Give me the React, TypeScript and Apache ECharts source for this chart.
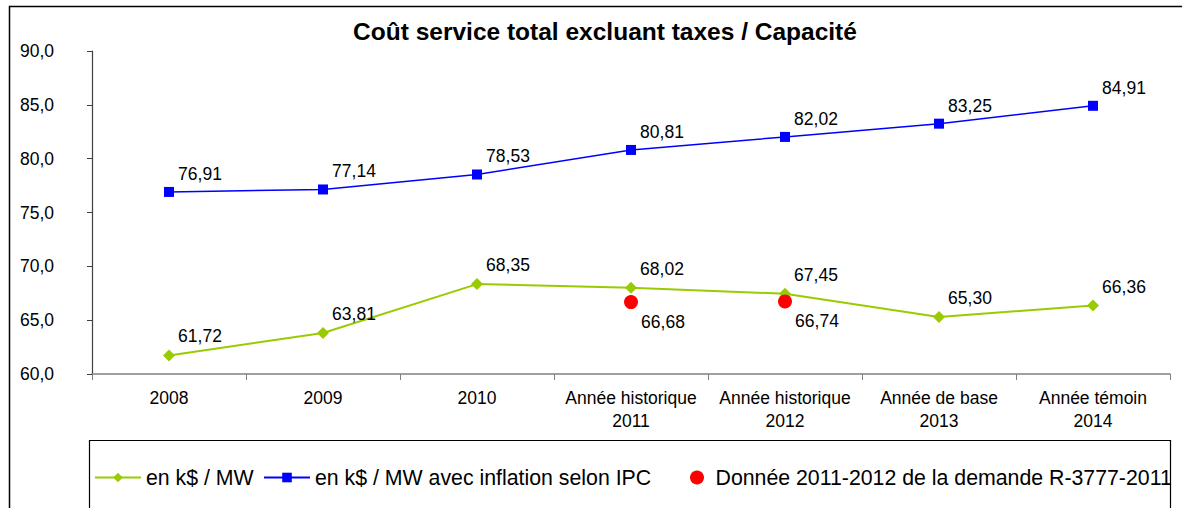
import React, { useEffect, useRef } from "react";
import * as echarts from "echarts";

const categories = [
  "2008",
  "2009",
  "2010",
  "Année historique\n2011",
  "Année historique\n2012",
  "Année de base\n2013",
  "Année témoin\n2014",
];
const greenName = "en k$ / MW";
const blueName = "en k$ / MW avec inflation selon IPC";
const redName = "Donnée 2011-2012 de la demande R-3777-2011";
const greenValues = [61.72, 63.81, 68.35, 68.02, 67.45, 65.3, 66.36];
const blueValues = [76.91, 77.14, 78.53, 80.81, 82.02, 83.25, 84.91];
const redValues: (number | null)[] = [null, null, null, 66.68, 66.74, null, null];
const yMin = 60;
const yMax = 90;
const yStep = 5;

const fmt = (v: number, d: number) => v.toFixed(d).replace(".", ",");
const FONT = "Liberation Sans, Arial, sans-serif";

export default function App() {
  const ref = useRef<HTMLDivElement>(null);
  useEffect(() => {
    if (!ref.current) return;
    const chart = echarts.init(ref.current, null, { renderer: "svg" });
    const labelStyle = {
      show: true,
      color: "#000",
      opacity: 1,
      fontSize: 17.5,
      fontFamily: FONT,
      textBorderWidth: 0,
      textShadowBlur: 0,
      formatter: (p: any) => fmt(p.value, 2),
    };
    const legendText = { fontSize: 21.3, color: "#000", fontFamily: FONT };
    chart.setOption({
      animation: false,
      backgroundColor: "#fff",
      title: {
        text: "Coût service total excluant taxes / Capacité",
        left: 600,
        top: 14,
        textAlign: "center",
        textStyle: { fontSize: 24.5, fontWeight: "bold", color: "#000", fontFamily: FONT },
      },
      grid: { left: 92, right: 12, top: 51, bottom: 134 },
      xAxis: {
        type: "category",
        data: categories,
        boundaryGap: true,
        axisLine: { lineStyle: { color: "#808080", width: 1.5 } },
        axisTick: { show: true, length: 6, lineStyle: { color: "#808080" } },
        axisLabel: {
          color: "#000",
          fontSize: 17.5,
          fontFamily: FONT,
          margin: 12,
          lineHeight: 23,
          interval: 0,
        },
        splitLine: { show: false },
      },
      yAxis: {
        type: "value",
        min: yMin,
        max: yMax,
        interval: yStep,
        axisLine: { show: true, lineStyle: { color: "#404040", width: 1.2 } },
        axisTick: { show: true, inside: false, length: 5, lineStyle: { color: "#404040" } },
        axisLabel: {
          color: "#000",
          fontSize: 17.5,
          fontFamily: FONT,
          margin: 38,
          formatter: (v: number) => fmt(v, 1),
        },
        splitLine: { show: false },
      },
      legend: [
        {
          data: [greenName],
          left: 89,
          top: 462,
          itemWidth: 46,
          itemHeight: 12,
          textStyle: legendText,
        },
        {
          data: [blueName],
          left: 258,
          top: 462,
          itemWidth: 46,
          itemHeight: 12,
          textStyle: legendText,
        },
        {
          data: [redName],
          left: 685,
          top: 462,
          itemWidth: 27,
          itemHeight: 14,
          textStyle: legendText,
        },
      ],
      graphic: [
        {
          type: "rect",
          shape: { x: 9.5, y: 6.5, width: 1185, height: 520 },
          style: { fill: "none", stroke: "#000", lineWidth: 1.5 },
          silent: true,
        },
        {
          type: "rect",
          shape: { x: 89.5, y: 440.5, width: 1081, height: 100 },
          style: { fill: "none", stroke: "#000", lineWidth: 1.2 },
          silent: true,
        },
      ],
      series: [
        {
          name: greenName,
          type: "line",
          data: greenValues,
          color: "#99CC00",
          symbol: "diamond",
          symbolSize: 12,
          lineStyle: { width: 2, color: "#99CC00" },
          itemStyle: { color: "#99CC00" },
          label: { ...labelStyle, position: "top", offset: [31, 1] },
          z: 3,
        },
        {
          name: blueName,
          type: "line",
          data: blueValues,
          color: "#0000FF",
          symbol: "rect",
          symbolSize: 10,
          lineStyle: { width: 1.5, color: "#0000FF" },
          itemStyle: { color: "#0000FF" },
          label: { ...labelStyle, position: "top", offset: [31, 1] },
          z: 3,
        },
        {
          name: redName,
          type: "scatter",
          data: redValues,
          color: "#FF0000",
          symbol: "circle",
          symbolSize: 14,
          itemStyle: { color: "#FF0000", opacity: 1 },
          label: { ...labelStyle, position: "bottom", offset: [32, -1] },
          z: 4,
        },
      ],
    });
    return () => chart.dispose();
  }, []);
  return (
    <div
      ref={ref}
      style={{ position: "fixed", left: 0, top: 0, width: 1182, height: 508 }}
    />
  );
}
